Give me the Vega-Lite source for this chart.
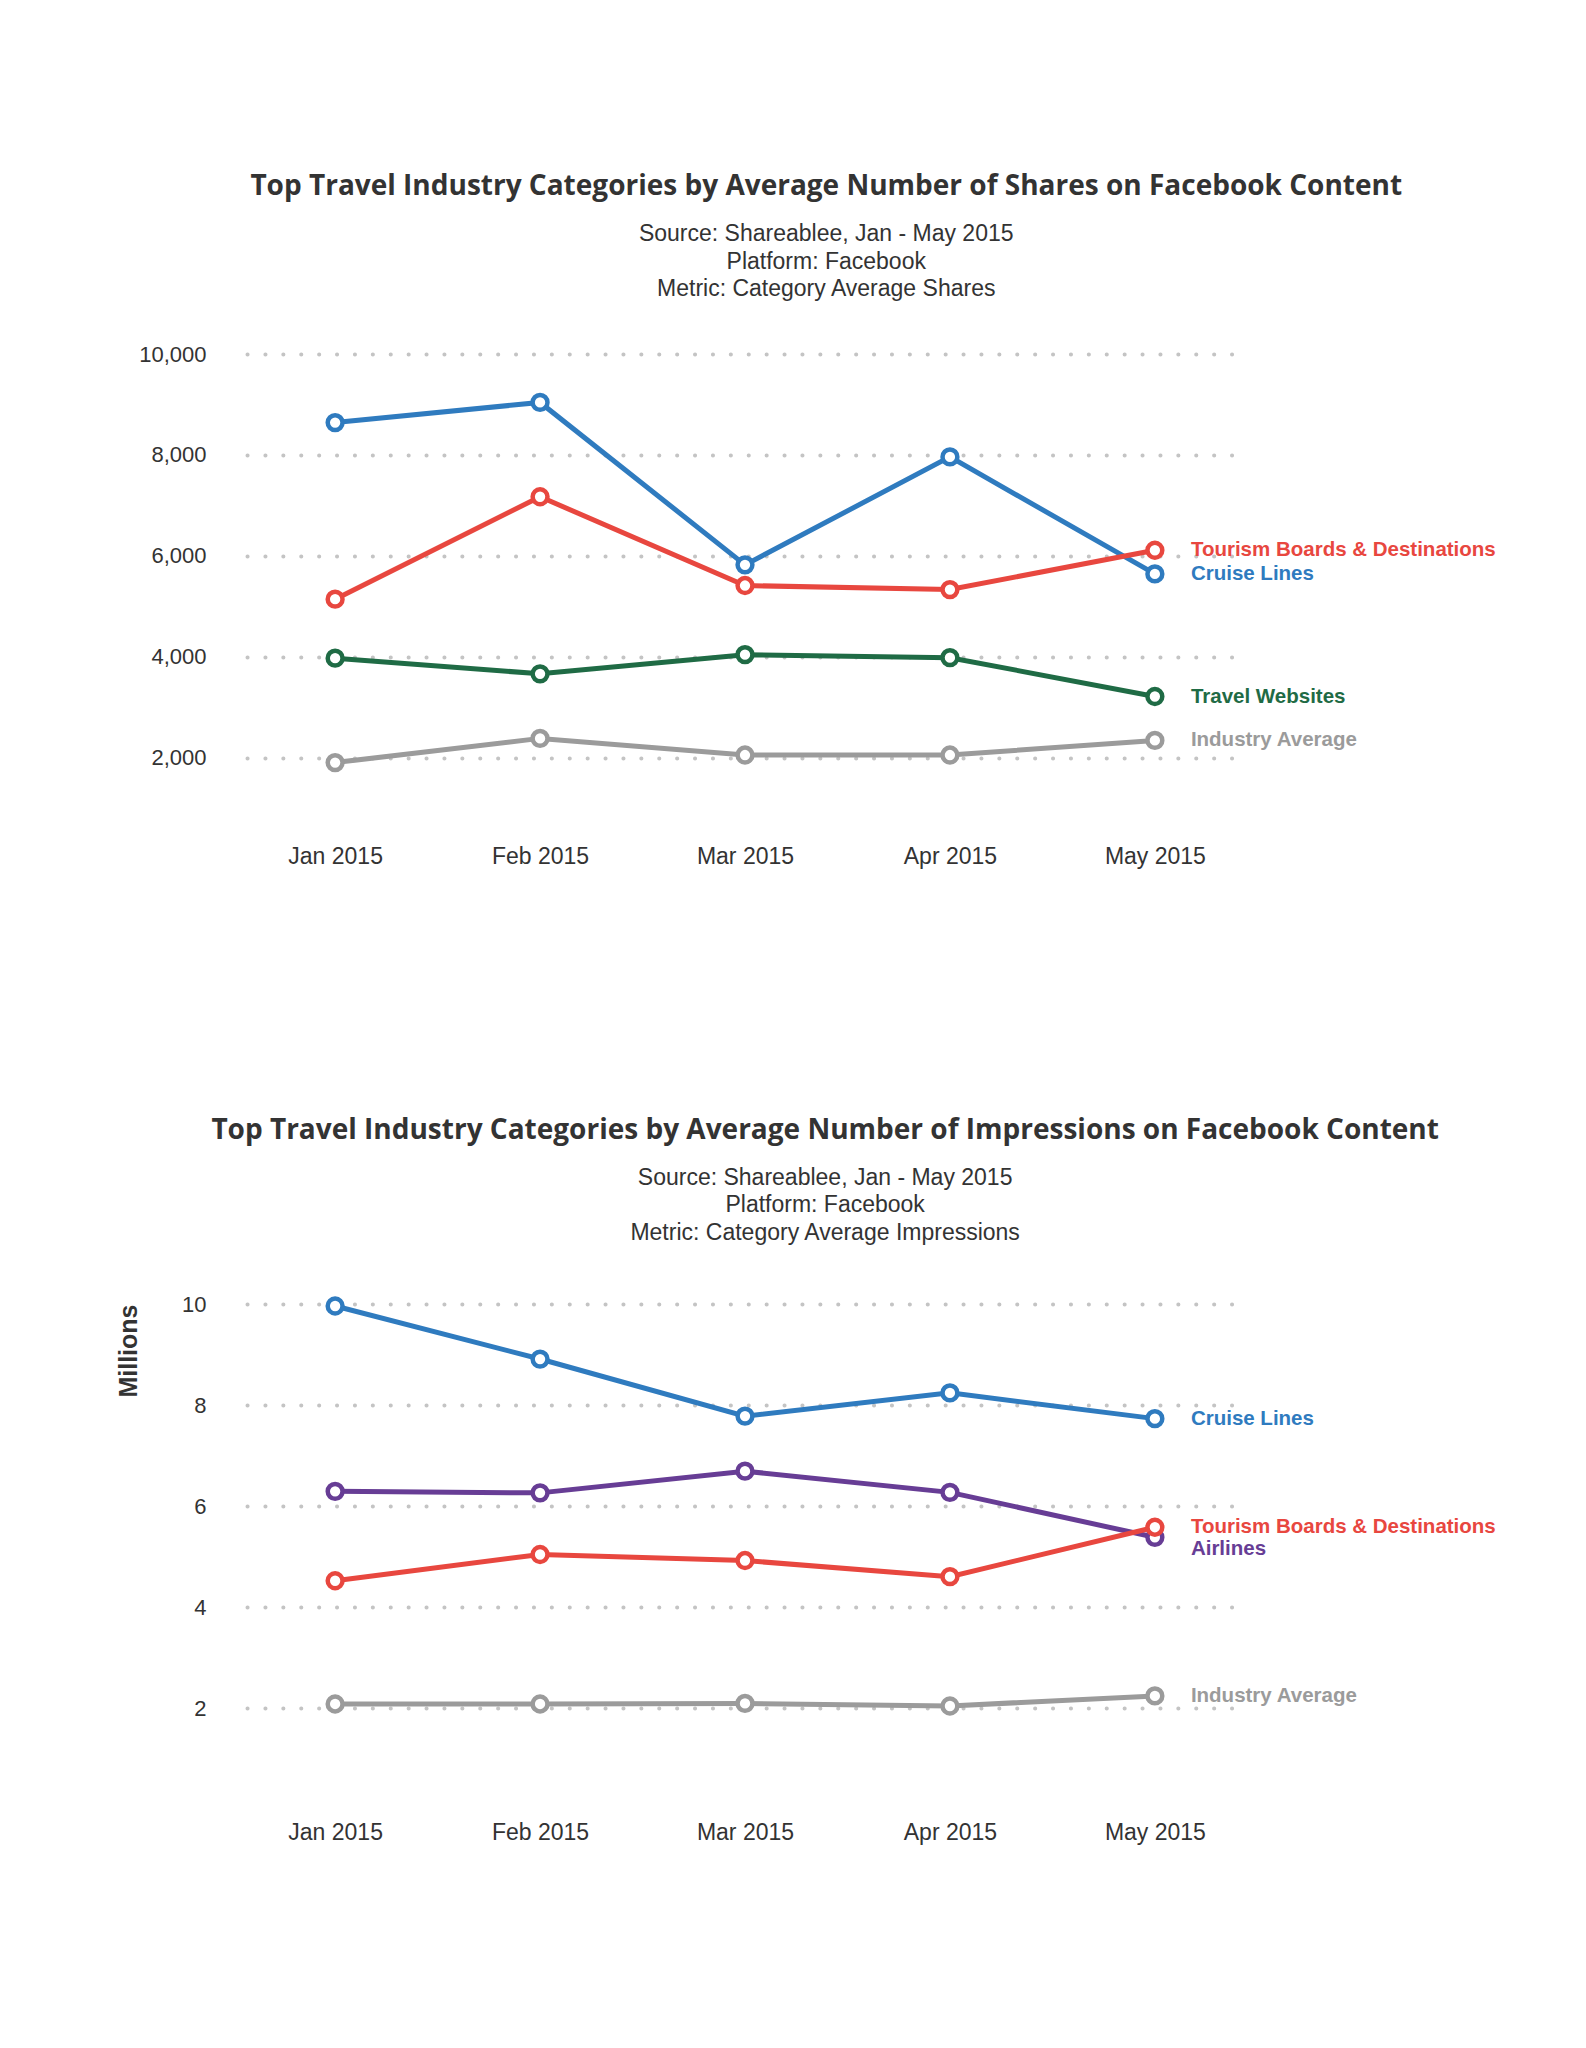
{
  "$schema": "https://vega.github.io/schema/vega-lite/v6.json",
  "background": "white",
  "padding": {"top": 173, "left": 116, "right": 10, "bottom": 10},
  "spacing": 248,
  "config": {
    "view": {"stroke": null},
    "font": "Liberation Sans",
    "axis": {"domain": false, "ticks": false, "labelFont": "Liberation Sans", "labelFontSize": 22, "labelColor": "#333333", "titleFont": "Liberation Sans", "titleColor": "#333333"},
    "axisY": {"grid": true, "gridColor": "#c4c4c4", "gridWidth": 4, "gridDash": [0.1, 17.8], "gridCap": "round", "labelPadding": 41},
    "axisX": {"grid": false, "labelPadding": 37, "labelFontSize": 23},
    "title": {"anchor": "middle", "frame": "bounds", "font": "Open Sans", "fontSize": 28, "fontWeight": "bold", "color": "#333333", "subtitleFont": "Liberation Sans", "subtitleFontSize": 23, "subtitleColor": "#333333", "subtitleLineHeight": 27.5, "subtitlePadding": 22}
  },
  "datasets": {
    "shares": [
      {"month": "Jan 2015", "series": "Industry Average", "value": 1900},
      {"month": "Feb 2015", "series": "Industry Average", "value": 2380},
      {"month": "Mar 2015", "series": "Industry Average", "value": 2050},
      {"month": "Apr 2015", "series": "Industry Average", "value": 2050},
      {"month": "May 2015", "series": "Industry Average", "value": 2340},
      {"month": "Jan 2015", "series": "Travel Websites", "value": 3970},
      {"month": "Feb 2015", "series": "Travel Websites", "value": 3660},
      {"month": "Mar 2015", "series": "Travel Websites", "value": 4040},
      {"month": "Apr 2015", "series": "Travel Websites", "value": 3980},
      {"month": "May 2015", "series": "Travel Websites", "value": 3210},
      {"month": "Jan 2015", "series": "Cruise Lines", "value": 8640},
      {"month": "Feb 2015", "series": "Cruise Lines", "value": 9040},
      {"month": "Mar 2015", "series": "Cruise Lines", "value": 5820},
      {"month": "Apr 2015", "series": "Cruise Lines", "value": 7960},
      {"month": "May 2015", "series": "Cruise Lines", "value": 5640},
      {"month": "Jan 2015", "series": "Tourism Boards & Destinations", "value": 5140},
      {"month": "Feb 2015", "series": "Tourism Boards & Destinations", "value": 7170},
      {"month": "Mar 2015", "series": "Tourism Boards & Destinations", "value": 5410},
      {"month": "Apr 2015", "series": "Tourism Boards & Destinations", "value": 5330},
      {"month": "May 2015", "series": "Tourism Boards & Destinations", "value": 6110}
    ],
    "impressions": [
      {"month": "Jan 2015", "series": "Industry Average", "value": 2.08},
      {"month": "Feb 2015", "series": "Industry Average", "value": 2.08},
      {"month": "Mar 2015", "series": "Industry Average", "value": 2.09},
      {"month": "Apr 2015", "series": "Industry Average", "value": 2.04},
      {"month": "May 2015", "series": "Industry Average", "value": 2.24},
      {"month": "Jan 2015", "series": "Cruise Lines", "value": 9.96},
      {"month": "Feb 2015", "series": "Cruise Lines", "value": 8.91},
      {"month": "Mar 2015", "series": "Cruise Lines", "value": 7.78},
      {"month": "Apr 2015", "series": "Cruise Lines", "value": 8.24},
      {"month": "May 2015", "series": "Cruise Lines", "value": 7.73},
      {"month": "Jan 2015", "series": "Airlines", "value": 6.29},
      {"month": "Feb 2015", "series": "Airlines", "value": 6.26},
      {"month": "Mar 2015", "series": "Airlines", "value": 6.69},
      {"month": "Apr 2015", "series": "Airlines", "value": 6.27},
      {"month": "May 2015", "series": "Airlines", "value": 5.38},
      {"month": "Jan 2015", "series": "Tourism Boards & Destinations", "value": 4.52},
      {"month": "Feb 2015", "series": "Tourism Boards & Destinations", "value": 5.04},
      {"month": "Mar 2015", "series": "Tourism Boards & Destinations", "value": 4.92},
      {"month": "Apr 2015", "series": "Tourism Boards & Destinations", "value": 4.60},
      {"month": "May 2015", "series": "Tourism Boards & Destinations", "value": 5.58}
    ]
  },
  "vconcat": [
    {
      "title": {"text": "Top Travel Industry Categories by Average Number of  Shares on Facebook Content", "subtitle": ["Source: Shareablee, Jan - May 2015", "Platform: Facebook", "Metric: Category Average Shares"], "offset": 42, "dx": 9},
      "width": 996,
      "height": 454,
      "data": {"name": "shares"},
      "encoding": {
        "x": {"field": "month", "type": "ordinal", "sort": ["Jan 2015", "Feb 2015", "Mar 2015", "Apr 2015", "May 2015"], "scale": {"type": "point", "padding": 0.43}, "axis": {"title": null, "labelAngle": 0}},
        "y": {"field": "value", "type": "quantitative", "scale": {"domain": [1000, 10000], "nice": false, "zero": false}, "axis": {"title": null, "values": [2000, 4000, 6000, 8000, 10000], "format": ",d"}},
        "color": {"field": "series", "type": "nominal", "legend": null, "scale": {"domain": ["Industry Average", "Travel Websites", "Cruise Lines", "Airlines", "Tourism Boards & Destinations"], "range": ["#9b9b9b", "#1f6b45", "#2f7bbf", "#673d95", "#e8473f"]}}
      },
      "layer": [
        {"mark": {"type": "line", "strokeWidth": 5}},
        {"mark": {"type": "point", "shape": "circle", "filled": false, "fill": "white", "fillOpacity": 1, "opacity": 1, "strokeWidth": 4.5, "size": 220}},
        {"transform": [{"filter": "datum.month == 'May 2015'"}], "mark": {"type": "text", "align": "left", "baseline": "middle", "dx": 36, "fontSize": 20.5, "fontWeight": "bold", "font": "Liberation Sans"}, "encoding": {"text": {"field": "series"}}}
      ]
    },
    {
      "title": {"text": "Top Travel Industry Categories by Average Number of  Impressions on Facebook Content", "subtitle": ["Source: Shareablee, Jan - May 2015", "Platform: Facebook", "Metric: Category Average Impressions"], "offset": 45, "dx": 19},
      "width": 996,
      "height": 505,
      "data": {"name": "impressions"},
      "encoding": {
        "x": {"field": "month", "type": "ordinal", "sort": ["Jan 2015", "Feb 2015", "Mar 2015", "Apr 2015", "May 2015"], "scale": {"type": "point", "padding": 0.43}, "axis": {"title": null, "labelAngle": 0, "labelPadding": 12}},
        "y": {"field": "value", "type": "quantitative", "scale": {"domain": [0, 10], "nice": false}, "axis": {"title": "Millions", "titleAnchor": "end", "titleFontSize": 25, "titleFontWeight": "bold", "titlePadding": 40, "values": [2, 4, 6, 8, 10]}},
        "color": {"field": "series", "type": "nominal", "legend": null, "scale": {"domain": ["Industry Average", "Travel Websites", "Cruise Lines", "Airlines", "Tourism Boards & Destinations"], "range": ["#9b9b9b", "#1f6b45", "#2f7bbf", "#673d95", "#e8473f"]}}
      },
      "layer": [
        {"mark": {"type": "line", "strokeWidth": 5}},
        {"mark": {"type": "point", "shape": "circle", "filled": false, "fill": "white", "fillOpacity": 1, "opacity": 1, "strokeWidth": 4.5, "size": 220}},
        {"transform": [{"filter": "datum.month == 'May 2015' && datum.series != 'Airlines'"}], "mark": {"type": "text", "align": "left", "baseline": "middle", "dx": 36, "fontSize": 20.5, "fontWeight": "bold", "font": "Liberation Sans"}, "encoding": {"text": {"field": "series"}}},
        {"transform": [{"filter": "datum.month == 'May 2015' && datum.series == 'Airlines'"}], "mark": {"type": "text", "align": "left", "baseline": "middle", "dx": 36, "dy": 12, "fontSize": 20.5, "fontWeight": "bold", "font": "Liberation Sans"}, "encoding": {"text": {"field": "series"}}}
      ]
    }
  ]
}
